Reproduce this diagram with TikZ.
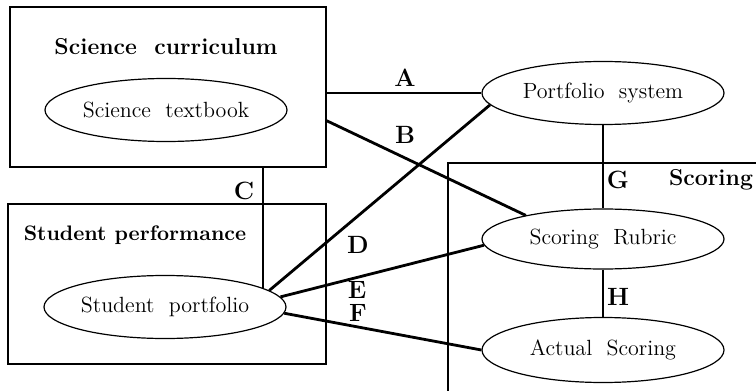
\documentclass[tikz,border=0pt]{standalone}
\usetikzlibrary{shapes.geometric}

\tikzset{
  group/.style={draw, line width=0.7pt, inner sep=0pt, minimum width=158pt, minimum height=80pt},
  item/.style={draw, ellipse, line width=0.6pt, inner sep=0pt, minimum width=121pt, minimum height=31.5pt, font=\fontsize{11}{13}\selectfont},
  title/.style={font=\fontsize{11.5}{13}\selectfont\bfseries},
  link/.style={line width=1.4pt},
  lbl/.style={font=\fontsize{12.5}{14}\selectfont\bfseries, inner sep=0pt}
}

\begin{document}
\begin{tikzpicture}[x=0.5pt, y=-0.5pt]
    \useasboundingbox (0,0) rectangle (756,391);
    % left boxes
    \node[group] (curr) at (168,87) {};
    \node[group, minimum width=159pt] (perf) at (167,284) {};
    \node[title] (currT) at (166,47) {Science\ \ curriculum};
    \node[title, font=\fontsize{10.5}{13}\selectfont\bfseries] (perfT) at (135,235) {Student\ performance};
    % scoring box
    \draw[line width=0.7pt] (448,400) -- (448,163) -- (760,163);
    \node[title] (scorT) at (711,180) {Scoring};
    % items
    \node[item] (stext) at (166,110) {Science\ \ textbook};
    \node[item] (sport) at (165,307) {Student\ \ portfolio};
    \node[item] (psys) at (603,93) {Portfolio\ \ system};
    \node[item, minimum height=30pt] (rubric) at (603,239) {Scoring\ \ Rubric};
    \node[item, minimum height=32.5pt] (actual) at (603,350) {Actual\ \ Scoring};
    % links
    \draw[link] (curr.east |- psys.west) -- (psys.west);
    \draw[link] (curr.-12.5) -- (rubric.163);
    \draw[link] (sport.11.6) -- (sport.11.6 |- curr.south);
    \draw[link] (sport.9) -- (psys.186);
    \draw[link] (sport.5) -- (rubric.183);
    \draw[link] (sport.-3) -- (actual.west);
    \draw[link] (psys.south) -- (rubric.north);
    \draw[link] (rubric.south) -- (actual.north);
    % labels
    \node[lbl] (lA) at (405,78) {A};
    \node[lbl] (lB) at (405,135) {B};
    \node[lbl] (lC) at (244,191) {C};
    \node[lbl] (lD) at (358,245) {D};
    \node[lbl] (lE) at (357,290) {E};
    \node[lbl] (lF) at (358,313) {F};
    \node[lbl] (lG) at (618,180) {G};
    \node[lbl] (lH) at (618,297) {H};
\end{tikzpicture}
\end{document}
